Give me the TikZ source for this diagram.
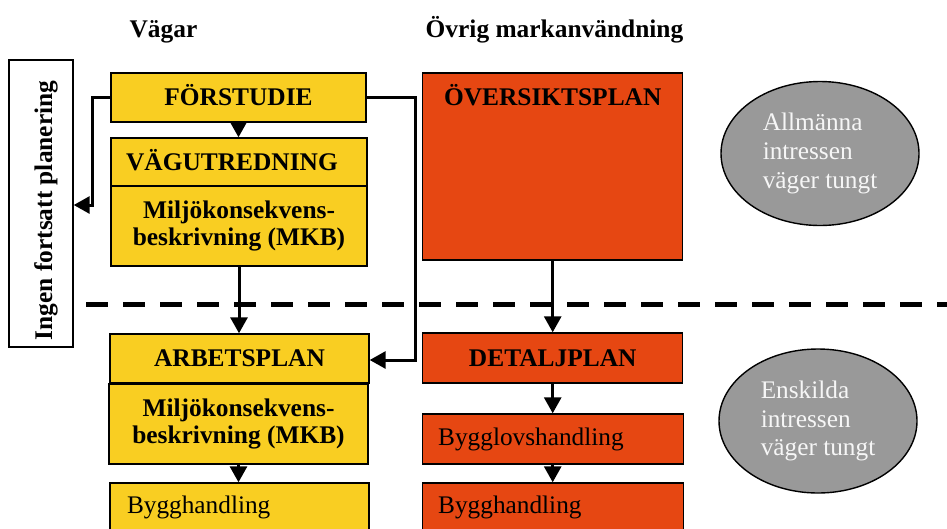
\documentclass[tikz,border=0pt]{standalone}
\usepackage{fontspec}
\setmainfont{Liberation Serif}
\usetikzlibrary{arrows.meta,shapes.geometric}
\definecolor{vagyellow}{RGB}{249,206,34}
\definecolor{planred}{RGB}{230,71,18}
\definecolor{intgray}{RGB}{153,153,153}
\definecolor{inttext}{RGB}{246,246,246}

\begin{document}
\begin{tikzpicture}[x=1pt,y=-1pt]

    \tikzset{
      box/.style={
        draw=black,
        line width=1.4pt,
        rectangle,
        inner sep=0pt,
        font=\fontsize{25.3}{27.5}\selectfont,
      },
      boldtext/.style={
        font=\bfseries\fontsize{25.4}{27.5}\selectfont,
      },
      caps/.style={
        text height=16.8pt,
        text depth=0pt,
      },
      vagbox/.style={box, fill=vagyellow},
      planbox/.style={box, fill=planred},
      heading/.style={
        boldtext,
        anchor=base,
        inner sep=0pt,
      },
      flow/.style={
        line width=3pt,
        -{Triangle[length=16pt,width=17pt]},
      },
      interest/.style={
        ellipse,
        draw=black,
        line width=1.4pt,
        fill=intgray,
        text=inttext,
        inner sep=0pt,
        minimum width=198pt,
        minimum height=144pt,
        align=left,
        font=\fontsize{25.3}{28.7}\selectfont,
      },
    }
    \useasboundingbox (0,0) rectangle (947,528);
    \clip (0,0) rectangle (947,528);

	% rubriker
	\node[heading] (vagar) at (163.5,37) {Vägar};
	\node[heading] (ovrig) at (554.5,37) {Övrig markanvändning};

	% vägar
	\node[vagbox,caps,boldtext,minimum width=255pt,minimum height=49pt] (forstudie) at (238.5,97.5) {FÖRSTUDIE};
	\node[vagbox,caps,boldtext,minimum width=256pt,minimum height=48pt] (vagutr) at (239,162) {VÄGUTREDNING\hspace{14pt}\mbox{}};
	\node[vagbox,boldtext,align=center,minimum width=256pt,minimum height=80pt] (mkba) at (239,226) {Miljökonsekvens-\\beskrivning (MKB)};
	\node[vagbox,caps,boldtext,minimum width=259pt,minimum height=49pt] (arbplan) at (239.5,358.5) {ARBETSPLAN};
	\node[vagbox,boldtext,align=center,minimum width=259pt,minimum height=80pt] (mkbb) at (238.5,424) {Miljökonsekvens-\\beskrivning (MKB)};
	\node[vagbox,text width=225pt,align=left,minimum width=259pt,minimum height=49pt] (bygga) at (239.5,507.5) {Bygghandling};

	% övrig markanvändning
	\node[planbox,minimum width=260pt,minimum height=187pt] (oversikt) at (552.7,166.5) {};
	\node[heading] (oversikttext) at (552.7,105) {ÖVERSIKTSPLAN};
	\node[planbox,caps,boldtext,minimum width=260pt,minimum height=50pt] (detalj) at (552.7,358) {DETALJPLAN};
	\node[planbox,text width=229pt,align=left,minimum width=261pt,minimum height=50pt] (bygglov) at (552.7,439) {Bygglovshandling};
	\node[planbox,text width=229pt,align=left,minimum width=261pt,minimum height=49pt] (byggb) at (552.7,507.5) {Bygghandling};

	% ingen fortsatt planering
	\node[box,boldtext,fill=white,rotate=90,text height=22pt,text depth=0pt,minimum width=287pt,minimum height=64pt] (ingen) at (41,203.5) {Ingen fortsatt planering\hspace{14pt}\mbox{}};

	% intressen
	\node[interest] (allm) at (820,153.5) {Allmänna\\intressen\\väger tungt};
	\node[interest] (ensk) at (818,421) {Enskilda\\intressen\\väger tungt};

	% gräns
	\coordinate (dashstart) at (86,304);
	\coordinate (dashend) at (947,304);
	\draw[color={black},line width=5pt,dash pattern=on 22pt off 15pt] (dashstart) -- (dashend);

	% pilar
	\coordinate (ltop) at (92,97.5);
	\coordinate (lbot) at (92,205);
	\coordinate (rtop) at (415,97.5);
	\coordinate (rbot) at (415,360);
	\draw[flow] (forstudie.south) -- (forstudie.south |- vagutr.north);
	\draw[flow] (forstudie.west) -- (ltop) -- (lbot) -- (lbot -| ingen.south);
	\draw[flow] (forstudie.east) -- (rtop) -- (rbot) -- (rbot -| arbplan.east);
	\draw[flow] (mkba.south) -- (mkba.south |- arbplan.north);
	\draw[flow] (mkbb.south) -- (mkbb.south |- bygga.north);
	\draw[flow] (oversikt.south) -- (detalj.north);
	\draw[flow] (detalj.south) -- (bygglov.north);
	\draw[flow] (bygglov.south) -- (byggb.north);

\end{tikzpicture}
\end{document}
